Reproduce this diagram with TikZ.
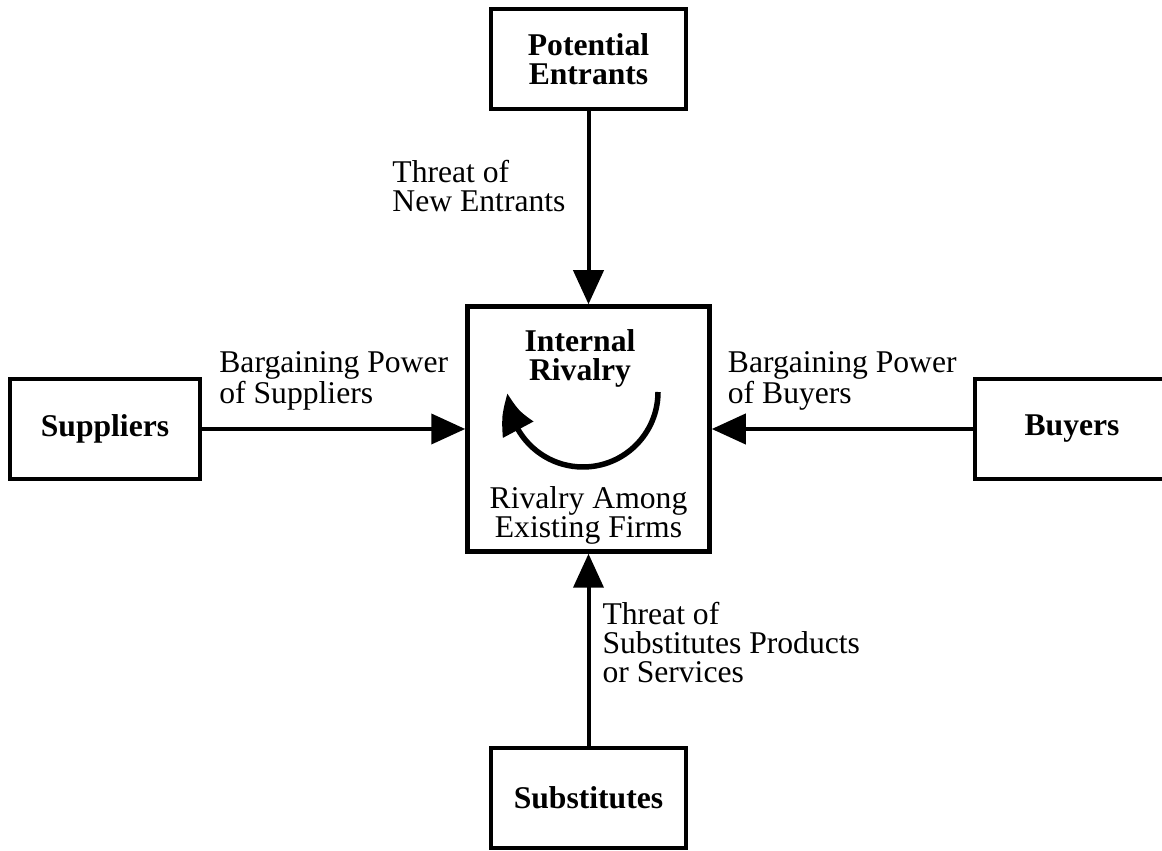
\documentclass[tikz,border=0pt]{standalone}
\usepackage{fontspec}
\setmainfont{Liberation Serif}
\usetikzlibrary{arrows.meta,bending,positioning}
\tikzset{force style/.style={
		draw=black,
		line width=0.09cm,
		fill=white,
		rectangle,
		minimum width=3.9cm,
		minimum height=2cm,
		align=center,
		font=\fontsize{18}{16.5}\selectfont\bfseries,
	},
	rivalry style/.style={
		draw=black,
		line width=0.09cm,
		rectangle,
		minimum width=4.84cm,
		minimum height=4.9cm,
	},
	title style/.style={
		inner sep=0pt,
		align=center,
		font=\fontsize{18}{16.5}\selectfont\bfseries,
	},
	edge style/.style={
		inner sep=0pt,
		align=left,
		text=black,
		font=\fontsize{18}{16.5}\selectfont,
	},
	force arrow/.style={
		line width=0.08cm,
		-{Triangle[length=0.68cm,width=0.6cm]},
	}
}
\begin{document}
\begin{tikzpicture}
	\clip (0,0) rectangle (23.24,17);
	\node[rivalry style] (Rivalry) at (11.77,8.42) {};
	\node[title style, below=0.5cm of Rivalry.north, xshift=-0.17cm] (Internal) {Internal\\Rivalry};
	\node[edge style, align=center, above=0.18cm of Rivalry.south] (Among) {Rivalry Among\\Existing Firms};
	\coordinate (ArcStart) at ([shift={(1.39,0.74)}]Rivalry.center);
	\draw[line width=0.11cm, -{Triangle[bend,length=0.78cm,width=0.66cm]}] (ArcStart) arc[start angle=0, end angle=-179, radius=1.5cm];
	
	\node[force style] (Entrants) at (11.77,15.82) {Potential\\Entrants}
	edge [force arrow] node[edge style, pos=0.385, left=0.42cm]{Threat of\\New Entrants} (Rivalry);
	
	\node[force style, minimum width=3.8cm] (Suppliers) at (2.1,8.42) {Suppliers}
	edge [force arrow] node[edge style, above=0.34cm]{Bargaining Power\\of Suppliers} (Rivalry);
	
	\node[force style, minimum width=3.88cm] (Buyers) at (21.44,8.42) {Buyers}
	edge [force arrow] node[edge style, above=0.34cm]{Bargaining Power\\of Buyers} (Rivalry);
	
	\node[force style] (Substitutes) at (11.77,1.04) {Substitutes}
	edge [force arrow] node[edge style, pos=0.54, right=0.24cm]{Threat of\\Substitutes Products\\or Services} (Rivalry);
\end{tikzpicture}
\end{document}
